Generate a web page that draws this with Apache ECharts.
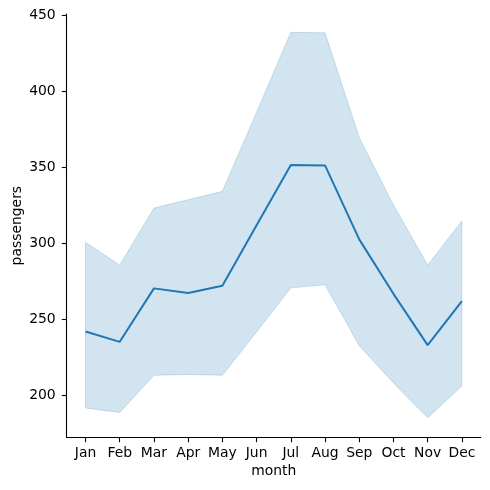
<!DOCTYPE html>
<html>
<head>
<meta charset="utf-8">
<script src="https://cdn.jsdelivr.net/npm/echarts@6/dist/echarts.min.js"></script>
<style>
  html, body { margin: 0; padding: 0; background: #fff; }
  #chart { width: 490px; height: 490px; }
</style>
</head>
<body>
<div id="chart"></div>
<script>
// month labels
const months = ["Jan", "Feb", "Mar", "Apr", "May", "Jun", "Jul", "Aug", "Sep", "Oct", "Nov", "Dec"];
// mean passengers per month
const meanPassengers = [241.75, 235.0, 270.17, 267.08, 271.83, 311.67, 351.33, 351.08, 302.42, 266.58, 232.83, 261.83];
// confidence band
const ciLower = [191.5, 188.5, 213, 213.5, 213, 241.5, 270.5, 272.5, 232.5, 208, 185, 206];
const ciUpper = [300.5, 285.5, 323, 328.5, 334, 386, 438.6, 438.3, 369.5, 325, 285.5, 314.5];
const yTicks = [200, 250, 300, 350, 400, 450];

const blue = "#1f77b4";
const txt = "#000";
const font = "DejaVu Sans";

const chart = echarts.init(document.getElementById("chart"));

const xIdx = months.map((m, i) => i);
const bandData = months.map((m, i) => [i, ciLower[i], ciUpper[i]]);
const meanLine = meanPassengers.map((v, i) => [i, v]);

// draw the whole band as one polygon (upper edge forward, lower edge back)
function renderBand(params, api) {
  if (params.dataIndex !== 0) return null;
  const pts = [];
  for (let i = 0; i < ciUpper.length; i++) pts.push(api.coord([i, ciUpper[i]]));
  for (let i = ciLower.length - 1; i >= 0; i--) pts.push(api.coord([i, ciLower[i]]));
  return {
    type: "polygon",
    shape: { points: pts },
    style: { fill: "rgba(31,119,180,0.2)", stroke: "rgba(31,119,180,0.2)", lineWidth: 1 }
  };
}

chart.setOption({
  animation: false,
  grid: { left: 66.7, right: 9.3, top: 14, bottom: 52.7, containLabel: false, outerBoundsMode: "none" },
  xAxis: {
    type: "value",
    min: -0.55,
    max: 11.55,
    name: "month",
    nameLocation: "middle",
    nameGap: 27,
    nameMoveOverlap: false,
    nameTextStyle: { color: txt, fontSize: 13.9, fontFamily: font },
    axisLine: { onZero: false, lineStyle: { color: "#000", width: 1.1 } },
    axisTick: { show: true, length: 4.9, customValues: xIdx, lineStyle: { color: "#000", width: 1.1 } },
    axisLabel: {
      customValues: xIdx,
      formatter: (v) => months[Math.round(v)],
      color: txt, fontSize: 13.9, fontFamily: font, margin: 9
    },
    splitLine: { show: false }
  },
  yAxis: {
    type: "value",
    min: 172.2,
    max: 450.66,
    name: "passengers",
    nameLocation: "middle",
    nameGap: 42,
    nameMoveOverlap: false,
    nameTextStyle: { color: txt, fontSize: 13.9, fontFamily: font },
    axisLine: { show: true, onZero: false, lineStyle: { color: "#000", width: 1.1 } },
    axisTick: { show: true, length: 4.9, customValues: yTicks, lineStyle: { color: "#000", width: 1.1 } },
    axisLabel: { customValues: yTicks, color: txt, fontSize: 13.9, fontFamily: font, margin: 11 },
    splitLine: { show: false }
  },
  series: [
    {
      type: "custom",
      data: bandData,
      renderItem: renderBand,
      encode: { x: 0, y: [1, 2] },
      z: 1
    },
    {
      type: "line",
      data: meanLine,
      symbol: "none",
      lineStyle: { color: blue, width: 2 },
      z: 3
    }
  ]
});
</script>
</body>
</html>
